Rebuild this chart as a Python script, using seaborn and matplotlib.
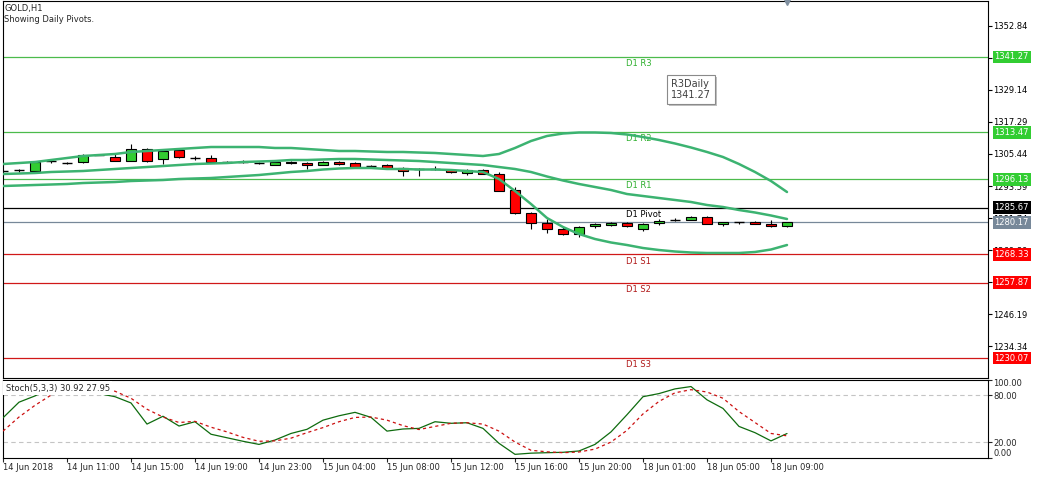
import numpy as np
import pandas as pd
import matplotlib
matplotlib.use("Agg")
import matplotlib.pyplot as plt
import matplotlib.patheffects as pe
import matplotlib.transforms as mtrans
import seaborn as sns

# ---------------- data ----------------
x_labels = ["14 Jun 2018", "14 Jun 11:00", "14 Jun 15:00", "14 Jun 19:00", "14 Jun 23:00",
            "15 Jun 04:00", "15 Jun 08:00", "15 Jun 12:00", "15 Jun 16:00", "15 Jun 20:00",
            "18 Jun 01:00", "18 Jun 05:00", "18 Jun 09:00"]
x_label_bars = [0, 4, 8, 12, 16, 20, 24, 28, 32, 36, 40, 44, 48]

opens = [1299.1, 1299.5, 1299.2, 1302.7, 1302.2, 1302.5, 1305.1, 1304.3, 1302.9, 1307.3,
         1303.6, 1306.9, 1304.0, 1304.0, 1302.5, 1302.4, 1302.2, 1301.4, 1302.5, 1302.1,
         1301.4, 1302.5, 1302.0, 1301.0, 1301.4, 1300.3, 1299.9, 1299.8, 1299.5, 1298.4,
         1299.5, 1298.1, 1292.1, 1283.6, 1280.0, 1277.7, 1275.9, 1278.8, 1279.2, 1280.0,
         1277.7, 1280.0, 1280.9, 1281.1, 1282.2, 1279.6, 1280.3, 1280.4, 1279.6, 1278.8]
highs = [1299.6, 1299.9, 1302.6, 1303.6, 1302.6, 1305.4, 1305.5, 1305.8, 1309.1, 1307.6,
         1306.9, 1307.1, 1304.7, 1305.1, 1302.7, 1303.2, 1302.4, 1302.7, 1302.7, 1302.3,
         1302.7, 1302.8, 1302.3, 1301.3, 1301.7, 1300.6, 1300.3, 1301.0, 1299.9, 1299.8,
         1299.9, 1298.8, 1293.3, 1283.9, 1281.4, 1278.5, 1278.7, 1280.0, 1280.3, 1280.2,
         1279.8, 1281.4, 1281.8, 1282.4, 1282.4, 1280.5, 1280.5, 1280.7, 1281.1, 1280.4]
lows = [1298.8, 1298.8, 1298.9, 1302.1, 1301.7, 1302.2, 1304.9, 1302.8, 1302.8, 1302.6,
        1301.7, 1304.0, 1303.2, 1302.3, 1302.2, 1302.2, 1301.9, 1301.2, 1301.9, 1299.9,
        1301.2, 1301.5, 1300.6, 1300.6, 1300.0, 1297.3, 1297.3, 1299.6, 1298.6, 1297.7,
        1297.9, 1291.6, 1283.4, 1277.7, 1276.3, 1275.6, 1274.8, 1278.1, 1278.9, 1278.6,
        1277.0, 1279.3, 1280.7, 1280.9, 1279.4, 1278.9, 1279.6, 1279.4, 1278.6, 1278.6]
closes = [1299.2, 1299.6, 1302.5, 1302.9, 1302.1, 1305.1, 1305.2, 1302.9, 1307.3, 1302.9,
          1306.6, 1304.3, 1303.9, 1302.5, 1302.4, 1302.5, 1302.1, 1302.5, 1302.1, 1301.4,
          1302.5, 1301.7, 1300.8, 1300.9, 1300.3, 1299.2, 1299.8, 1299.9, 1298.8, 1299.5,
          1298.1, 1291.8, 1283.6, 1280.0, 1277.7, 1275.9, 1278.5, 1279.6, 1280.0, 1278.8,
          1279.6, 1280.7, 1281.0, 1282.2, 1279.6, 1280.3, 1280.4, 1279.6, 1278.8, 1280.17]

band_upper = [1301.74, 1302.11, 1302.48, 1303.22, 1303.96, 1304.70, 1305.07, 1305.44, 1306.18, 1306.55,
              1306.92, 1307.29, 1307.66, 1308.02, 1308.02, 1308.02, 1308.02, 1307.66, 1307.66, 1307.29,
              1306.92, 1306.55, 1306.55, 1306.36, 1306.18, 1306.18, 1305.99, 1305.81, 1305.44, 1305.07,
              1304.70, 1305.44, 1307.66, 1310.24, 1312.09, 1313.01, 1313.38, 1313.38, 1313.20, 1312.64,
              1311.72, 1310.61, 1309.32, 1307.84, 1306.18, 1304.33, 1301.74, 1298.79, 1295.46, 1291.40]
band_middle = [1298.05, 1298.23, 1298.42, 1298.79, 1298.97, 1299.16, 1299.53, 1299.90, 1300.27, 1300.63,
               1301.00, 1301.37, 1301.74, 1301.93, 1302.11, 1302.48, 1302.67, 1302.85, 1303.22, 1303.22,
               1303.41, 1303.59, 1303.59, 1303.41, 1303.22, 1303.04, 1302.85, 1302.48, 1302.11, 1301.74,
               1301.37, 1300.63, 1299.90, 1298.79, 1297.13, 1295.65, 1294.36, 1293.25, 1292.14, 1290.66,
               1289.92, 1289.18, 1288.45, 1287.71, 1286.60, 1285.86, 1284.75, 1283.83, 1282.72, 1281.43]
band_lower = [1293.62, 1293.80, 1293.99, 1294.17, 1294.36, 1294.72, 1294.91, 1295.09, 1295.46, 1295.65,
              1295.83, 1296.20, 1296.39, 1296.57, 1296.94, 1297.31, 1297.68, 1298.23, 1298.79, 1299.16,
              1299.71, 1300.08, 1300.27, 1300.27, 1299.90, 1299.90, 1299.71, 1299.71, 1299.53, 1299.16,
              1298.79, 1296.20, 1291.77, 1286.97, 1281.80, 1278.47, 1275.89, 1274.04, 1272.75, 1271.82,
              1270.71, 1269.97, 1269.42, 1269.05, 1268.87, 1268.87, 1268.87, 1269.24, 1270.16, 1271.82]

stoch_main = [51, 71, 79, 90, 92, 95, 82, 78, 70, 43,
              53, 40.5, 46, 30, 25.5, 21, 17, 22.6, 31, 36.3,
              48, 53.6, 58, 51.6, 34, 36.7, 37.5, 46, 44, 44.7,
              37.5, 18.4, 4.3, 5.8, 6.4, 6.9, 8.6, 17, 33, 55,
              78, 82, 88, 91, 74, 63, 40, 32, 21.5, 30.92]
stoch_signal = [34, 52, 67, 80, 87, 92, 89, 85, 76, 62,
                52, 45, 46.5, 39, 33, 26, 21, 21.5, 25, 32,
                38.5, 46, 51.5, 52, 48, 41, 36, 40, 44, 44.7,
                43, 34, 20, 9.5, 7.5, 6.4, 7.3, 11, 20, 35,
                56, 72, 83, 87, 84, 76, 59, 45, 31, 27.95]

pivot_names = ["D1 R3", "D1 R2", "D1 R1", "D1 Pivot", "D1 S1", "D1 S2", "D1 S3"]
pivot_levels = [1341.27, 1313.47, 1296.13, 1285.67, 1268.33, 1257.87, 1230.07]
current_price = 1280.17
price_ticks = [1352.84, 1340.99, 1329.14, 1317.29, 1305.44, 1293.59, 1281.74,
               1269.89, 1258.04, 1246.19, 1234.34]
stoch_ticks = [0, 20, 80, 100]

# ---------------- style ----------------
sns.set_style("white")
plt.rcParams['font.family'] = ['DejaVu Sans']
FS = 6

GREEN_LINE = "#4CBB4C"
RED_LINE = "#D01818"
BAND = "#3CB371"
BULL = "#32CD32"
BEAR = "#FF0000"

W, H = 1043, 480
fig = plt.figure(figsize=(W / 100, H / 100), dpi=100)
fig.patch.set_facecolor("white")


def px_axes(l, t, r, b):
    return fig.add_axes([l / W, 1 - b / H, (r - l) / W, (b - t) / H])


ax = px_axes(3, 0.5, 988, 377.5)
ax2 = px_axes(3, 379.5, 988, 457.7)

n = len(closes)
idx = np.arange(n)
x_right = (988 - 3) / 16.0

# ---------------- main panel ----------------
for name, lvl in zip(pivot_names, pivot_levels):
    kind = name.split()[1]
    if kind.startswith("R"):
        col, tcol = GREEN_LINE, "#2FB02F"
    elif kind.startswith("S"):
        col, tcol = RED_LINE, "#B01818"
    else:
        col, tcol = "black", "black"
    ax.axhline(lvl, color=col, lw=0.9, zorder=1)
    ax.text((626 - 3) / 16.0, lvl, name, fontsize=FS, color=tcol, ha="left", va="top",
            zorder=2, transform=mtrans.offset_copy(ax.transData, fig, y=-1.5, units="points"))
ax.axhline(current_price, color="#778899", lw=0.9, zorder=1)

# candles
o = np.array(opens); c = np.array(closes); h = np.array(highs); l = np.array(lows)
ax.vlines(idx, l, h, color="black", lw=0.8, zorder=3)
body = np.abs(c - o)
doji = body < 0.25
cols = np.where(c >= o, BULL, BEAR)
ax.bar(idx[~doji], body[~doji], bottom=np.minimum(o, c)[~doji], width=0.62,
       color=cols[~doji], edgecolor="black", linewidth=0.8, zorder=4)
ax.hlines(((o + c) / 2)[doji], idx[doji] - 0.31, idx[doji] + 0.31, color="black", lw=1.0, zorder=4)

# bollinger bands
for band in (band_upper, band_middle, band_lower):
    sns.lineplot(x=idx, y=band, ax=ax, color=BAND, lw=1.8, zorder=5)

ax.set_xlim(0, x_right)
ax.set_ylim(1222.88, 1362.14)
ax.set_xticks([])
ax.yaxis.tick_right()
ax.set_yticks(price_ticks)
ax.set_yticklabels([f"{v:.2f}" for v in price_ticks])
ax.tick_params(axis="y", direction="out", length=3, width=0.8, pad=1, labelsize=FS,
               colors="black", right=True, left=False)
ax.set_xlabel(""); ax.set_ylabel("")
for s in ax.spines.values():
    s.set_color("black"); s.set_linewidth(0.8)

# price boxes on right
btrans = mtrans.blended_transform_factory(ax.transAxes, ax.transData) + \
    mtrans.ScaledTranslation(6.5 / 100, 0, fig.dpi_scale_trans)
box_cols = [BULL, BULL, BULL, "black", BEAR, BEAR, BEAR]
for lvl, bc in zip(pivot_levels, box_cols):
    ax.text(1.0, lvl, f"{lvl:.2f}", transform=btrans, fontsize=FS, color="white",
            ha="left", va="center", clip_on=False, zorder=20,
            bbox=dict(boxstyle="square,pad=0.22", fc=bc, ec="none"))
ax.text(1.0, current_price, f"{current_price:.2f}", transform=btrans, fontsize=FS, color="white",
        ha="left", va="center", clip_on=False, zorder=20,
        bbox=dict(boxstyle="square,pad=0.22", fc="#778899", ec="none"))

# titles
ax.text(1.5 / 985, 1 - 3 / 377, "GOLD,H1", transform=ax.transAxes, fontsize=FS, va="top", ha="left")
ax.text(1.5 / 985, 1 - 14 / 377, "Showing Daily Pivots.", transform=ax.transAxes, fontsize=FS,
        va="top", ha="left")

# tooltip
tt = fig.text(671 / W, 1 - 79 / H, "R3Daily\n1341.27", fontsize=7, color="#404040",
              va="top", ha="left", linespacing=1.15,
              bbox=dict(boxstyle="square,pad=0.4", fc="white", ec="#8a8a8a", lw=0.8))
tt.get_bbox_patch().set_path_effects([pe.withSimplePatchShadow(offset=(1.5, -1.5),
                                                               shadow_rgbFace="#999999", alpha=0.6)])

# shift marker
ax.plot([49], [1.0], marker="v", markersize=6, color="#8090A0",
        transform=mtrans.blended_transform_factory(ax.transData, ax.transAxes),
        clip_on=False, zorder=10)

# ---------------- stochastic panel ----------------
for lv in (20, 80):
    ax2.axhline(lv, color="#C4C4C4", lw=0.8, linestyle=(0, (4, 3)), zorder=1)
sns.lineplot(x=idx, y=stoch_main, ax=ax2, color="#0E6B0E", lw=0.9, zorder=3)
sns.lineplot(x=idx, y=stoch_signal, ax=ax2, color="#CC1010", lw=0.9, zorder=3)
ax2.lines[-1].set_linestyle((0, (2.5, 2.5)))

ax2.set_xlim(0, x_right)
ax2.set_ylim(0, 100)
ax2.yaxis.tick_right()
ax2.set_yticks(stoch_ticks)
ax2.set_yticklabels([f"{v:.2f}" for v in stoch_ticks])
ax2.tick_params(axis="y", direction="out", length=3, width=0.8, pad=1, labelsize=FS,
                right=True, left=False)
tl = ax2.get_yticklabels()
tl[0].set_va("bottom")
tl[-1].set_va("top")
ax2.set_xticks(x_label_bars)
ax2.set_xticklabels(x_labels)
ax2.tick_params(axis="x", direction="out", length=3, width=0.8, pad=1, labelsize=FS, bottom=True)
for t in ax2.get_xticklabels():
    t.set_ha("left")
ax2.set_xlabel(""); ax2.set_ylabel("")
for s in ax2.spines.values():
    s.set_color("black"); s.set_linewidth(0.8)

ax2.text(2.5 / 985, 1 - 4 / 78, "Stoch(5,3,3) 30.92 27.95", transform=ax2.transAxes, fontsize=FS,
         va="top", ha="left", zorder=10,
         bbox=dict(boxstyle="square,pad=0.3", fc="white", ec="none"))

fig.savefig("out.png", dpi=100, facecolor="white")
